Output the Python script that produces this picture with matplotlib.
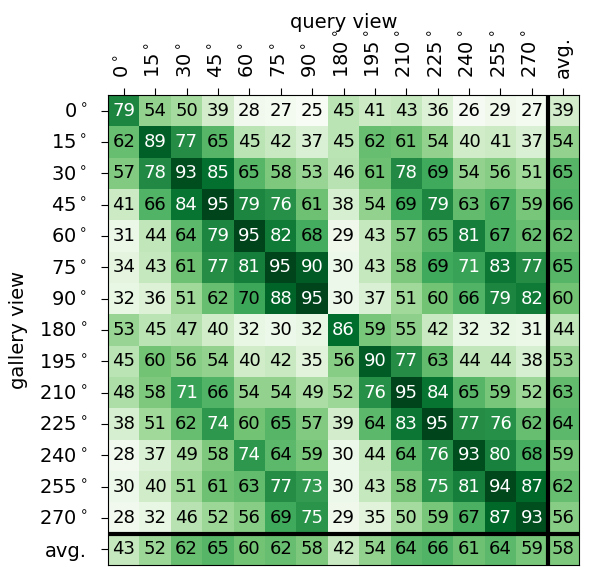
import numpy as np
import matplotlib
matplotlib.use("Agg")
import matplotlib.pyplot as plt

# view angles (rows = gallery view, columns = query view)
views = [0, 15, 30, 45, 60, 75, 90, 180, 195, 210, 225, 240, 255, 270]

acc = [
    [79, 54, 50, 39, 28, 27, 25, 45, 41, 43, 36, 26, 29, 27],
    [62, 89, 77, 65, 45, 42, 37, 45, 62, 61, 54, 40, 41, 37],
    [57, 78, 93, 85, 65, 58, 53, 46, 61, 78, 69, 54, 56, 51],
    [41, 66, 84, 95, 79, 76, 61, 38, 54, 69, 79, 63, 67, 59],
    [31, 44, 64, 79, 95, 82, 68, 29, 43, 57, 65, 81, 67, 62],
    [34, 43, 61, 77, 81, 95, 90, 30, 43, 58, 69, 71, 83, 77],
    [32, 36, 51, 62, 70, 88, 95, 30, 37, 51, 60, 66, 79, 82],
    [53, 45, 47, 40, 32, 30, 32, 86, 59, 55, 42, 32, 32, 31],
    [45, 60, 56, 54, 40, 42, 35, 56, 90, 77, 63, 44, 44, 38],
    [48, 58, 71, 66, 54, 54, 49, 52, 76, 95, 84, 65, 59, 52],
    [38, 51, 62, 74, 60, 65, 57, 39, 64, 83, 95, 77, 76, 62],
    [28, 37, 49, 58, 74, 64, 59, 30, 44, 64, 76, 93, 80, 68],
    [30, 40, 51, 61, 63, 77, 73, 30, 43, 58, 75, 81, 94, 87],
    [28, 32, 46, 52, 56, 69, 75, 29, 35, 50, 59, 67, 87, 93],
]
row_avg = [39, 54, 65, 66, 62, 65, 60, 44, 53, 63, 64, 59, 62, 56]
col_avg = [43, 52, 62, 65, 60, 62, 58, 42, 54, 64, 66, 61, 64, 59]
total_avg = 58

# assemble full 15x15 table with avg row / column
n = len(views)
grid = np.zeros((n + 1, n + 1))
grid[:n, :n] = acc
grid[:n, n] = row_avg
grid[n, :n] = col_avg
grid[n, n] = total_avg

labels = [f"{v}$^\\circ$" for v in views] + ["avg."]

fig = plt.figure(figsize=(5.89, 5.67), dpi=100)
ax = fig.add_axes([108 / 589, 2 / 567, 471 / 589, 470 / 567])

ax.imshow(grid, cmap="Greens", vmin=grid.min(), vmax=grid.max(),
          aspect="auto", interpolation="nearest")

for i in range(n + 1):
    for j in range(n + 1):
        val = int(grid[i, j])
        ax.text(j, i, str(val), ha="center", va="center", fontsize=13,
                color="white" if val > 70 else "black")

# separators for the average row / column
ax.axvline(n - 0.5, color="black", linewidth=3)
ax.axhline(n - 0.5, color="black", linewidth=3)

ax.set_xticks(range(n + 1))
ax.set_yticks(range(n + 1))
ax.set_xticklabels(labels, rotation=90, fontsize=14)
ax.set_yticklabels(labels, fontsize=14)
ax.xaxis.tick_top()
ax.tick_params(axis="x", length=5, pad=7)
ax.tick_params(axis="y", length=5, pad=10)
ax.xaxis.set_label_position("top")
ax.set_xlabel("query view", fontsize=14, labelpad=1)
ax.set_ylabel("gallery view", fontsize=14, labelpad=8)

fig.savefig("out.png", dpi=100)
